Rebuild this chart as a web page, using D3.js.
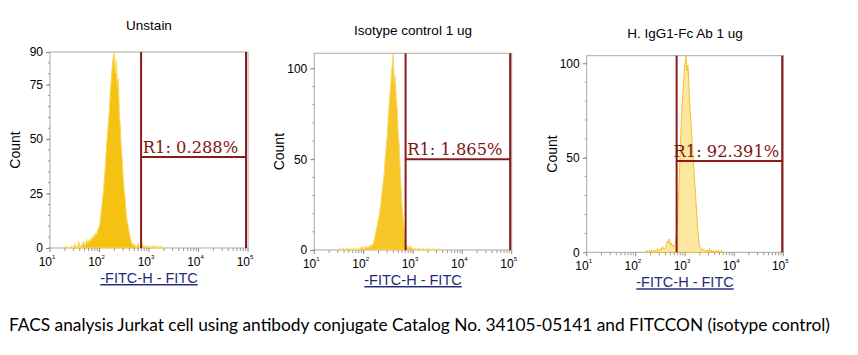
<!DOCTYPE html>
<html>
<head>
<meta charset="utf-8">
<script src="https://d3js.org/d3.v7.min.js"></script>
<style>
  body { margin: 0; background: #fff; }
  svg { display: block; font-family: "Liberation Sans", Arial, sans-serif; }
</style>
</head>
<body>
<script>
// histogram counts, one value per 0.02-decade channel starting at the given log10 value
var binStep = 0.02;

var unstainStart = 1.30;
var unstainCounts = [
  0,1,0,0,0,
  0,0,1,0,0,2,0,1,0,3,
  1,0,2,1,3,1,2,4,2,3,
  4,3,5,4,6,5,7,6,8,9,
  10,13,18,22,26,
  32,38,46,52,58,
  64,72,78,84,88,
  90,80,86,74,78,
  62,56,46,40,32,
  26,22,16,12,10,
  7,5,3,2,1,
  2,1,0,1,2,
  1,0,1,2,1,0,1,1,0,1,
  0,1,0,0,1,0,1,0,0,1,0,0,1,0,0
];

var isotypeStart = 1.50;
var isotypeCounts = [
  0,1,0,0,1,0,0,0,1,0,
  1,0,0,1,0,1,0,0,1,0,
  1,0,1,2,1,0,2,1,2,1,
  2,1,3,2,3,
  4,6,9,12,14,
  17,20,24,28,34,
  38,44,52,58,64,
  74,82,88,96,102,
  108,92,96,84,78,
  64,58,44,34,24,
  18,12,6,3,2,
  1,2,1,2,1,
  1,0,1,0,0,1,0,1,0,0,1,0,0,0,1,0,0,1,0,0,0,1,0,0,0,0,1,0,0,0
];

var iggStart = 2.20;
var iggCounts = [
  0,1,0,0,1,0,1,0,1,1,
  1,0,2,1,1,2,1,3,2,2,
  2,4,6,5,7,
  4,5,3,4,3,
  3,8,15,24,36,
  52,65,78,85,94,
  100,104,96,99,88,
  75,70,60,52,44,
  36,28,20,12,6,
  3,2,1,2,1,
  1,0,1,1,0,2,0,1,0,1,0,0,1,0,1,0,0,1,0,0
];

var titles = ["Unstain", "Isotype control 1 ug", "H. IgG1-Fc Ab 1 ug"];
var gateLabels = ["R1: 0.288%", "R1: 1.865%", "R1: 92.391%"];
var gateLow = [692, 708, 676];
var gateHigh = [91000, 93000, 95000];
var gateCount = [41.8, 50, 48.3];
var yMaxes = [90, 108.3, 104];
var yTickValues = [[0, 25, 50, 75, 90], [0, 50, 100], [0, 50, 100]];
var yMinorStep = [5, 10, 10];
var xTickExps = [1, 2, 3, 4, 5];
var xAxisTitle = "-FITC-H - FITC";
var yAxisTitle = "Count";
var caption = "FACS analysis Jurkat cell using antibody conjugate Catalog No. 34105-05141 and FITCCON (isotype control)";

var panels = [
  {start: unstainStart, counts: unstainCounts, box: [50, 52, 248, 248], titleY: 30, fill: "#f5c214", stroke: "#f9d85c"},
  {start: isotypeStart, counts: isotypeCounts, box: [314.3, 53.3, 511.7, 250], titleY: 35, fill: "#f6c629", stroke: "#f9d96a"},
  {start: iggStart, counts: iggCounts, box: [586.7, 55.7, 783.3, 252.3], titleY: 38, fill: "#fbe7a0", stroke: "#f2c12e"}
];

var W = 858, H = 355;
var svg = d3.select("body").append("svg")
  .attr("width", W)
  .attr("height", H);

panels.forEach(function(p, i) {
  var left = p.box[0], top = p.box[1], right = p.box[2], bottom = p.box[3];
  var x = d3.scaleLog().domain([10, 100000]).range([left, right]);
  var y = d3.scaleLinear().domain([0, yMaxes[i]]).range([bottom, top]);
  var g = svg.append("g").attr("class", "panel");

  g.append("text")
    .attr("x", (left + right) / 2)
    .attr("y", p.titleY)
    .attr("text-anchor", "middle")
    .style("font-size", "13.5px")
    .text(titles[i]);

  // frame
  g.append("rect")
    .attr("x", left).attr("y", top)
    .attr("width", right - left).attr("height", bottom - top)
    .attr("fill", "none")
    .attr("stroke", "#a9a9a9")
    .attr("stroke-width", 1);

  // histogram
  var pts = p.counts.map(function(c, k) {
    return {v: Math.pow(10, p.start + k * binStep), c: c};
  });
  var area = d3.area()
    .x(function(d) { return x(d.v); })
    .y0(y(0))
    .y1(function(d) { return y(d.c); });
  g.append("path")
    .datum(pts)
    .attr("d", area)
    .attr("fill", p.fill)
    .attr("stroke", p.stroke)
    .attr("stroke-width", 1)
    .attr("stroke-linejoin", "round");

  // gate
  var gate = g.append("g").attr("stroke", "#8b1a1a").attr("stroke-width", 2);
  gate.append("line")
    .attr("x1", x(gateLow[i])).attr("x2", x(gateLow[i]))
    .attr("y1", top).attr("y2", bottom);
  gate.append("line")
    .attr("x1", x(gateHigh[i])).attr("x2", x(gateHigh[i]))
    .attr("y1", top).attr("y2", bottom);
  gate.append("line")
    .attr("x1", x(gateLow[i])).attr("x2", x(gateHigh[i]))
    .attr("y1", y(gateCount[i])).attr("y2", y(gateCount[i]));
  g.append("text")
    .attr("x", (x(gateLow[i]) + x(gateHigh[i])) / 2 - 3)
    .attr("y", y(gateCount[i]) - 4)
    .attr("text-anchor", "middle")
    .attr("fill", "#821616")
    .style("font-family", "'DejaVu Serif', serif")
    .style("font-size", "16.3px")
    .text(gateLabels[i]);

  // y axis
  var yAxis = d3.axisLeft(y)
    .tickValues(yTickValues[i])
    .tickSize(4)
    .tickPadding(3)
    .tickFormat(d3.format("d"));
  var ya = g.append("g")
    .attr("transform", "translate(" + left + ",0)")
    .call(yAxis);
  ya.select(".domain").remove();
  ya.selectAll("line").attr("stroke", "#888");
  ya.selectAll("text").style("font-size", "12px").style("font-family", "'Liberation Sans', Arial, sans-serif");
  var yMinor = d3.range(0, yMaxes[i], yMinorStep[i]);
  g.append("g").selectAll("line")
    .data(yMinor)
    .join("line")
    .attr("x1", left - 2).attr("x2", left)
    .attr("y1", function(d) { return y(d); })
    .attr("y2", function(d) { return y(d); })
    .attr("stroke", "#999");

  g.append("text")
    .attr("transform", "translate(" + (left - 30) + "," + ((top + bottom) / 2) + ") rotate(-90)")
    .attr("text-anchor", "middle")
    .style("font-size", "14px")
    .text(yAxisTitle);

  // x axis: minor ticks + decade labels
  var minor = [];
  for (var e = 1; e < 5; e++) {
    for (var m = 2; m < 10; m++) minor.push(m * Math.pow(10, e));
  }
  g.append("g").selectAll("line")
    .data(minor)
    .join("line")
    .attr("x1", function(d) { return x(d); })
    .attr("x2", function(d) { return x(d); })
    .attr("y1", bottom).attr("y2", bottom + 3)
    .attr("stroke", "#999");
  var majors = g.append("g").selectAll("g")
    .data(xTickExps)
    .join("g")
    .attr("transform", function(d) { return "translate(" + x(Math.pow(10, d)) + "," + bottom + ")"; });
  majors.append("line")
    .attr("y1", 0).attr("y2", 4)
    .attr("stroke", "#888");
  majors.append("text")
    .attr("x", 2).attr("y", 18)
    .attr("text-anchor", "end")
    .style("font-size", "12px")
    .text("10");
  majors.append("text")
    .attr("x", 2).attr("y", 11)
    .style("font-size", "6px")
    .text(function(d) { return d; });

  g.append("text")
    .attr("x", (left + right) / 2)
    .attr("y", bottom + 35)
    .attr("text-anchor", "middle")
    .attr("fill", "#1f2a7a")
    .style("font-size", "14.5px")
    .style("text-decoration", "underline")
    .text(xAxisTitle);
});

svg.append("text")
  .attr("x", 9)
  .attr("y", 331)
  .attr("textLength", 821)
  .attr("lengthAdjust", "spacingAndGlyphs")
  .style("font-family", "Lato, 'Open Sans', sans-serif")
  .style("font-size", "17px")
  .text(caption);
</script>
</body>
</html>
